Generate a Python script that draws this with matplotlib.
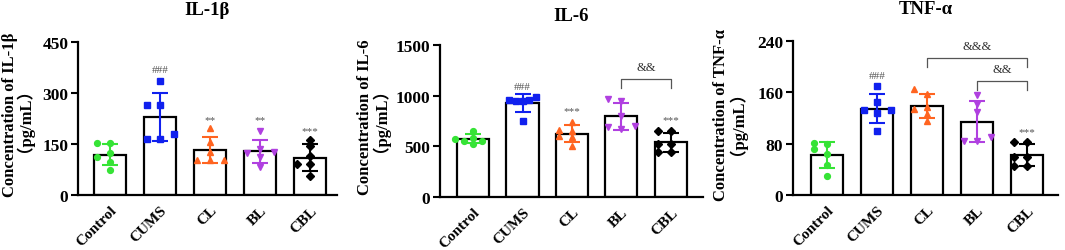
import numpy as np
import matplotlib.pyplot as plt

# groups and colours
groups = ['Control', 'CUMS', 'CL', 'BL', 'CBL']
colors = ['#36e336', '#1020ee', '#ff6420', '#b040e0', '#000000']
markers = ['o', 's', '^', 'v', 'D']

# individual values (6 animals per group)
il1b = [[152, 152, 125, 111, 98, 73],
        [335, 265, 265, 179, 165, 165],
        [197, 155, 126, 104, 104, 104],
        [189, 135, 127, 124, 111, 83],
        [162, 145, 116, 91, 91, 55]]
il6 = [[654, 579, 572, 556, 556, 523],
       [984, 961, 951, 951, 961, 753],
       [745, 665, 655, 600, 590, 500],
       [967, 951, 803, 704, 688, 671],
       [655, 655, 523, 523, 449, 449]]
tnfa = [[81, 79.5, 71.7, 64, 46.8, 30],
        [170, 144.5, 133, 133, 128, 99],
        [165, 157, 137, 134, 126, 116],
        [156, 142, 129, 90, 84.6, 84.6],
        [82, 82, 60, 60, 44.7, 44.7]]

titles = ['IL-1β', 'IL-6', 'TNF-α']
ymax = [450, 1500, 240]
yticks = [[0, 150, 300, 450], [0, 500, 1000, 1500], [0, 80, 160, 240]]

# significance marks: (group index, text, y)
marks = [[(1, '###', 370), (2, '**', 223), (3, '**', 223), (4, '***', 189)],
         [(1, '###', 1089), (2, '***', 855), (4, '***', 766)],
         [(1, '###', 187), (4, '***', 99)]]
# brackets: (from group, to group, y, text)
brackets = [[],
            [(3, 4, 1168, '&&')],
            [(2, 4, 214, '&&&'), (3, 4, 178, '&&')]]

# axes boxes in figure pixels: left, right, top, bottom
boxes = [(78, 337, 43, 196), (440, 703, 46, 198), (793, 1058, 42, 196)]
xlims = [(-0.64, 4.54), (-0.67, 4.65), (-0.68, 4.62)]
# y-label lines in figure pixels: baseline x and centre y for each line
ylab_pos = [(14, 115, 21, 112), (369, 117, 377, 112), (725, 115, 734, 115)]
title_pad = [20, 18, 20]

W, H = 1065, 251
serif = ['Liberation Serif', 'Noto Sans CJK SC', 'DejaVu Sans']
plt.rcParams['font.family'] = serif
plt.rcParams['font.weight'] = 'bold'


def swarm(vals, px_per_unit, thr=5.5):
    # simple column beeswarm, returns x offsets
    order = np.argsort(vals)
    placed = []
    cols = np.zeros(len(vals))
    for i in order:
        for k in [0, -1, 1, -2, 2, -3, 3]:
            ok = True
            for (o, v) in placed:
                if o == k and abs(v - vals[i]) * px_per_unit < thr:
                    ok = False
                    break
            if ok:
                placed.append((k, vals[i]))
                cols[i] = k
                break
    span = cols.max() - cols.min()
    step = 0.27 if span <= 2 else 0.56 / span
    return cols * step


fig = plt.figure(figsize=(W / 100, H / 100), dpi=100)
datasets = [il1b, il6, tnfa]

for p in range(3):
    l, r, t, b = boxes[p]
    ax = fig.add_axes([l / W, (H - b) / H, (r - l) / W, (b - t) / H])
    data = datasets[p]
    x = np.arange(len(groups))
    means = [np.mean(d) for d in data]
    sds = [np.std(d, ddof=1) for d in data]
    ax.bar(x, means, width=0.65, color='white', edgecolor='black',
           linewidth=1.6, zorder=1)
    pxu = (b - t) / ymax[p]
    for i in range(len(groups)):
        offs = swarm(np.array(data[i], dtype=float), pxu)
        ax.plot(x[i] + offs, data[i], linestyle='none', marker=markers[i],
                ms=4.2 if markers[i] != 'D' else 3.6,
                color=colors[i], zorder=3, clip_on=False)
        ax.errorbar(x[i], means[i], yerr=sds[i], color=colors[i],
                    capsize=6, capthick=1.5, elinewidth=1.5, zorder=4)

    for (g, txt, yy) in marks[p]:
        ax.text(x[g], yy, txt, ha='center', va='center', fontsize=8,
                fontweight='normal', color='#555555')
    for (g1, g2, yy, txt) in brackets[p]:
        drop = 0.06 * ymax[p]
        ax.plot([x[g1], x[g1], x[g2], x[g2]], [yy - drop, yy, yy, yy - drop],
                color='#555555', lw=0.9, zorder=2)
        ax.text((x[g1] + x[g2]) / 2, yy + 0.035 * ymax[p], txt, ha='center',
                va='bottom', fontsize=9, fontweight='normal', color='#333333')

    ax.set_xlim(*xlims[p])
    ax.set_ylim(0, ymax[p])
    ax.set_yticks(yticks[p])
    ax.set_xticks(x)
    ax.set_xticklabels(groups, rotation=45, ha='right', rotation_mode='anchor',
                       fontsize=11, fontweight='bold')
    ax.tick_params(axis='x', length=0, pad=6)
    ax.tick_params(axis='y', length=5, width=1.5, labelsize=12.5, pad=2)
    for lab in ax.get_yticklabels():
        lab.set_fontweight('bold')
    for s in ['top', 'right']:
        ax.spines[s].set_visible(False)
    for s in ['left', 'bottom']:
        ax.spines[s].set_linewidth(1.6)
    ax.set_title(titles[p], fontsize=13.5, fontweight='bold', pad=title_pad[p])

    # two-line y label, placed line by line (baseline anchored)
    x1, y1, x2, y2 = ylab_pos[p]
    fig.text(x1 / W, 1 - y1 / H, 'Concentration of ' + titles[p], rotation=90,
             rotation_mode='anchor', ha='center', va='baseline',
             fontsize=12, fontweight='bold')
    fig.text(x2 / W, 1 - y2 / H, '（pg/mL）', rotation=90,
             rotation_mode='anchor', ha='center', va='baseline',
             fontsize=12, fontweight='bold')

fig.savefig('out.png', dpi=100)
